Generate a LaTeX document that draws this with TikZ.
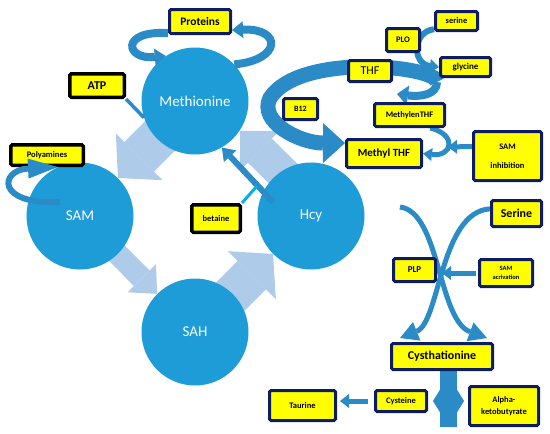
\documentclass[tikz,border=0pt]{standalone}
\usepackage{fontspec}
\setmainfont{Carlito}
\usetikzlibrary{arrows.meta, positioning, calc}
\definecolor{discblue}{HTML}{1E9CD7}
\definecolor{paleblue}{HTML}{AFCBEA}
\definecolor{ribbon}{HTML}{2A8BC6}
\definecolor{navy}{HTML}{0E1C64}
\definecolor{boxyellow}{HTML}{FFFF00}
\definecolor{cyanlink}{HTML}{00B0F0}
\pgfdeclarelayer{fatlayer}
\pgfdeclarelayer{disclayer}
\pgfdeclarelayer{ribbonlayer}
\pgfsetlayers{fatlayer,disclayer,ribbonlayer,main}

\begin{document}
\begin{tikzpicture}[x=1pt, y=-1pt,
  disc/.style={circle, fill=discblue, minimum size=107pt, inner sep=0pt, text=white, font=\fontsize{15}{15}\selectfont},
  ybox/.style={rectangle, draw=navy, line width=3pt, fill=boxyellow, rounded corners=1.5pt, inner sep=0pt, align=center, text=black, font=\bfseries\fontsize{8.5}{10}\selectfont},
  kbox/.style={ybox, draw=black, line width=3.5pt},
  bigtxt/.style={font=\bfseries\fontsize{12}{14}\selectfont},
  fat/.style={draw=paleblue},
  rib/.style={draw=ribbon, line width=#1},
  sarrow/.style={draw=ribbon, line width=5pt, -{Triangle[length=9pt,width=14pt,line width=0pt]}}
]
\useasboundingbox (0,0) rectangle (550,434);

% the four discs of the cycle
\begin{pgfonlayer}{disclayer}
\node[disc] (met) at (195,101) {Methionine};
\node[disc] (sam) at (80,216)  {SAM};
\node[disc] (sah) at (195,332) {SAH};
\node[disc] (hcy) at (311,216) {Hcy};
\end{pgfonlayer}

% boxes
\node[ybox, minimum width=61pt, minimum height=24pt, font=\bfseries\fontsize{11.5}{13}\selectfont] (prot) at (200,21.5) {Proteins};
\node[kbox, minimum width=54.5pt, minimum height=23.5pt, bigtxt] (atp) at (97,85.5) {ATP};
\node[kbox, minimum width=72.5pt, minimum height=20.5pt] (poly) at (47,155) {Polyamines};
\node[kbox, minimum width=48.5pt, minimum height=27.5pt] (bet) at (216,218.5) {betaine};
\node[ybox, minimum width=42pt, minimum height=19pt] (ser) at (456.5,21) {serine};
\node[ybox, minimum width=33pt, minimum height=23pt] (plo) at (403,40) {PLO};
\node[ybox, minimum width=50pt, minimum height=19pt, font=\bfseries\fontsize{9}{10}\selectfont] (gly) at (465.5,67) {glycine};
\node[ybox, minimum width=43pt, minimum height=21pt, font=\fontsize{12}{14}\selectfont] (thf) at (370,71) {THF};
\node[ybox, minimum width=34pt, minimum height=21pt, font=\bfseries\fontsize{8}{10}\selectfont] (b12) at (300.5,109) {B12};
\node[ybox, minimum width=70pt, minimum height=23pt] (mlthf) at (409.5,115) {MethylenTHF};
\node[ybox, minimum width=75pt, minimum height=28pt, font=\bfseries\fontsize{11}{13}\selectfont] (mthf) at (384,153.5) {Methyl THF};
\node[ybox, minimum width=68pt, minimum height=49pt] (samin) at (507.5,156) {SAM\\[9pt]inhibition};
\node[ybox, minimum width=50pt, minimum height=26pt, bigtxt] (serb) at (516.5,213.5) {Serine};
\node[ybox, minimum width=42pt, minimum height=23pt, font=\bfseries\fontsize{9}{10}\selectfont] (plp) at (414.5,270) {PLP};
\node[ybox, minimum width=53pt, minimum height=27pt, font=\bfseries\fontsize{6.5}{9}\selectfont] (samac) at (506,273) {SAM\\acrivation};
\node[ybox, minimum width=101pt, minimum height=26pt, bigtxt] (cysth) at (442,356.5) {Cysthationine};
\node[ybox, minimum width=51pt, minimum height=21pt] (cyst) at (401,401) {Cysteine};
\node[ybox, minimum width=69pt, minimum height=39pt, font=\bfseries\fontsize{8.5}{12}\selectfont] (alpha) at (504,406) {Alpha-\\ketobutyrate};
\node[ybox, minimum width=66pt, minimum height=30pt] (taur) at (302.5,405.5) {Taurine};

\coordinate (loopend) at (437,82);
\coordinate (mltip) at (397,94);
\coordinate (inhibtip) at (448,147);
\coordinate (betjoin) at (257,186);
\coordinate (hcyout) at (400,207);
\coordinate (barend) at (448,427);

% pale cycle arrows
\begin{pgfonlayer}{fatlayer}
\draw[fat, line width=42pt, -{Triangle[length=30pt,width=66pt,line width=0pt]}] (met.center) -- (sam);
\draw[fat, line width=22pt, -{Triangle[length=22pt,width=40pt,line width=0pt]}] (sam.center) -- (sah);
\draw[fat, line width=40pt, -{Triangle[length=30pt,width=68pt,line width=0pt]}] (sah.center) -- (hcy);
\draw[fat, line width=34pt, -{Triangle[length=28pt,width=56pt,line width=0pt]}] ([shift={(7,-8)}]hcy.center) -- ([shift={(7,-8)}]met.-45);
\end{pgfonlayer}

% ribbons and small arrows
\begin{pgfonlayer}{ribbonlayer}
\draw[rib=8pt, -{Triangle[length=11pt,width=17pt,line width=0pt]}] (prot.200) .. controls (120,30) and (125,60) .. (met.123);
\draw[rib=8pt, -{Triangle[length=11pt,width=17pt,line width=0pt]}] (met.43) .. controls (282,60) and (282,28) .. (prot.-15);
\draw[rib=3.5pt] (atp.south east) -- (met.198);
\draw[rib=15pt, -{Triangle[length=22pt,width=40pt,line width=0pt]}] (loopend) .. controls (437,66) and (300,52) .. (270,98) .. controls (258,122) and (300,143) .. (mthf.165);
\draw[rib=8pt, -{Triangle[length=11pt,width=20pt,line width=0pt]}] (loopend) .. controls (437,95) and (420,97) .. (mltip);
\draw[rib=6pt, -{Triangle[length=9pt,width=14pt,line width=0pt]}] (ser.200) .. controls (412,32) and (412,64) .. (gly.west);
\draw[rib=5pt, -{Triangle[length=9pt,width=13pt,line width=0pt]}] (mlthf.-32) .. controls (458,135) and (452,157) .. (mthf.east);
\draw[sarrow] (samin.165) -- (inhibtip);
\draw[rib=6pt, -{Triangle[length=12pt,width=17pt,line width=0pt]}] ([shift={(-38,-14)}]hcy.center) -- (met.-60);
\draw[cyanlink, line width=3pt] (bet.north east) -- (betjoin);
\draw[rib=5pt, -{Triangle[length=18pt,width=20pt,line width=0pt]}] (hcyout) .. controls (440,212) and (438,320) .. ([shift={(-7,-4)}]cysth.north east);
\draw[rib=5pt, -{Triangle[length=18pt,width=20pt,line width=0pt]}] (serb.170) .. controls (440,212) and (440,322) .. ([shift={(10,-4)}]cysth.north west);
\draw[sarrow, shorten <=2pt, shorten >=5pt] (samac.west) -- (samac.west -| plp.east);
\draw[rib=17pt] ([xshift=6pt]cysth.south) -- (barend);
\draw[rib=12pt, {Triangle[length=8pt,width=26pt,line width=0pt]}-{Triangle[length=8pt,width=26pt,line width=0pt]}, shorten <=5pt, shorten >=4pt] (cyst.east) -- (cyst.east -| alpha.west);
\draw[sarrow, shorten <=6pt, shorten >=3pt] (cyst.west) -- (cyst.west -| taur.east);
\end{pgfonlayer}

\draw[rib=6pt, -{Triangle[length=30pt,width=20pt,line width=0pt]}] ($(sam)+(-20,-14)$) .. controls (-5,205) and (0,170) .. ([xshift=11pt]poly.south);
\end{tikzpicture}
\end{document}
